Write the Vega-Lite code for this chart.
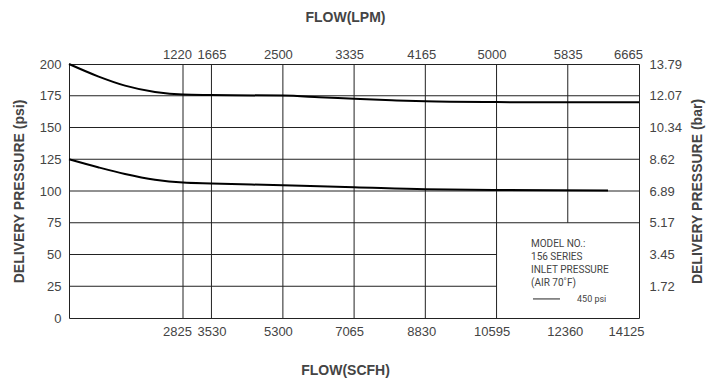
{
  "$schema": "https://vega.github.io/schema/vega-lite/v6.json",
  "width": 570,
  "height": 254,
  "autosize": {"type": "none"},
  "padding": {"left": 69, "top": 64, "right": 71, "bottom": 63},
  "background": "white",
  "config": {
    "view": {"stroke": "#222", "strokeWidth": 1},
    "axis": {
      "labelFont": "Liberation Sans",
      "labelFontSize": 13,
      "labelColor": "#444",
      "titleFont": "Liberation Sans",
      "titleFontSize": 14,
      "titleFontWeight": "bold",
      "titleColor": "#444",
      "ticks": false,
      "tickSize": 0,
      "domain": false,
      "grid": false
    }
  },
  "layer": [
    {
      "data": {"values": [
        {"x": 2825, "y1": 0, "y2": 200},
        {"x": 3530, "y1": 0, "y2": 200},
        {"x": 5300, "y1": 0, "y2": 200},
        {"x": 7065, "y1": 0, "y2": 200},
        {"x": 8830, "y1": 0, "y2": 200},
        {"x": 10595, "y1": 0, "y2": 200},
        {"x": 12360, "y1": 75, "y2": 200}
      ]},
      "mark": {"type": "rule", "color": "#222", "strokeWidth": 1},
      "encoding": {
        "x": {"field": "x", "type": "quantitative", "scale": {"domain": [0, 14125], "nice": false, "zero": false},
          "axis": {"orient": "top", "title": "FLOW(LPM)", "values": [2825, 3530, 5300, 7065, 8830, 10595, 12360, 14125],
            "labelExpr": "datum.value == 2825 ? '1220' : datum.value == 3530 ? '1665' : datum.value == 5300 ? '2500' : datum.value == 7065 ? '3335' : datum.value == 8830 ? '4165' : datum.value == 10595 ? '5000' : datum.value == 12360 ? '5835' : '6665'",
            "labelOffset": {"expr": "datum.value == 2825 ? -6 : datum.value == 3530 ? 0 : datum.value == 5300 ? -5 : datum.value == 7065 ? -5 : datum.value == 8830 ? -4 : datum.value == 10595 ? -5 : datum.value == 12360 ? 0 : -11"},
            "labelPadding": 3, "titlePadding": 24, "titleX": 276, "labelFlush": false, "labelOverlap": false}},
        "y": {"field": "y1", "type": "quantitative", "scale": {"domain": [0, 200], "nice": false},
          "axis": {"orient": "right", "title": "DELIVERY PRESSURE (bar)", "values": [25, 50, 75, 100, 125, 150, 175, 200],
            "labelExpr": "datum.value == 25 ? '1.72' : datum.value == 50 ? '3.45' : datum.value == 75 ? '5.17' : datum.value == 100 ? '6.89' : datum.value == 125 ? '8.62' : datum.value == 150 ? '10.34' : datum.value == 175 ? '12.07' : '13.79'",
            "labelPadding": 10, "titlePadding": 9, "titleAngle": 270, "titleBaseline": "top", "labelFlush": false, "labelOverlap": false}},
        "y2": {"field": "y2"}
      }
    },
    {
      "data": {"values": [
        {"y": 25, "x1": 0, "x2": 10595},
        {"y": 50, "x1": 0, "x2": 10595},
        {"y": 75, "x1": 0, "x2": 14125},
        {"y": 100, "x1": 0, "x2": 14125},
        {"y": 125, "x1": 0, "x2": 14125},
        {"y": 150, "x1": 0, "x2": 14125},
        {"y": 175, "x1": 0, "x2": 14125}
      ]},
      "mark": {"type": "rule", "color": "#222", "strokeWidth": 1},
      "encoding": {
        "y": {"field": "y", "type": "quantitative", "axis": null},
        "x": {"field": "x1", "type": "quantitative", "axis": null},
        "x2": {"field": "x2"}
      }
    },
    {
      "data": {"values": [
        {"series": "upper", "flow": 0, "psi": 200},
        {"series": "upper", "flow": 719, "psi": 190.3},
        {"series": "upper", "flow": 1388, "psi": 183.0},
        {"series": "upper", "flow": 2131, "psi": 178.0},
        {"series": "upper", "flow": 2825, "psi": 175.9},
        {"series": "upper", "flow": 3530, "psi": 175.6},
        {"series": "upper", "flow": 5300, "psi": 175.1},
        {"series": "upper", "flow": 6200, "psi": 173.9},
        {"series": "upper", "flow": 7065, "psi": 172.6},
        {"series": "upper", "flow": 8000, "psi": 171.4},
        {"series": "upper", "flow": 8830, "psi": 170.6},
        {"series": "upper", "flow": 10595, "psi": 170.0},
        {"series": "upper", "flow": 12360, "psi": 169.8},
        {"series": "upper", "flow": 14125, "psi": 169.8},
        {"series": "lower", "flow": 0, "psi": 125},
        {"series": "lower", "flow": 719, "psi": 118.7},
        {"series": "lower", "flow": 1388, "psi": 113.4},
        {"series": "lower", "flow": 2131, "psi": 108.9},
        {"series": "lower", "flow": 2825, "psi": 106.6},
        {"series": "lower", "flow": 3530, "psi": 105.9},
        {"series": "lower", "flow": 5300, "psi": 104.5},
        {"series": "lower", "flow": 7065, "psi": 103.0},
        {"series": "lower", "flow": 8830, "psi": 101.3},
        {"series": "lower", "flow": 10595, "psi": 100.8},
        {"series": "lower", "flow": 13357, "psi": 100.3}
      ]},
      "mark": {"type": "line", "color": "#000", "strokeWidth": 2, "interpolate": "monotone"},
      "encoding": {
        "x": {"field": "flow", "type": "quantitative",
          "axis": {"orient": "bottom", "title": "FLOW(SCFH)", "values": [2825, 3530, 5300, 7065, 8830, 10595, 12360, 14125],
            "format": "d",
            "labelOffset": {"expr": "datum.value == 2825 ? -6 : datum.value == 3530 ? 0 : datum.value == 5300 ? -5 : datum.value == 7065 ? -5 : datum.value == 8830 ? -4 : datum.value == 10595 ? -5 : datum.value == 12360 ? -3 : -13"},
            "labelPadding": 7, "titlePadding": 25, "titleX": 276, "labelFlush": false, "labelOverlap": false}},
        "y": {"field": "psi", "type": "quantitative",
          "axis": {"orient": "left", "title": "DELIVERY PRESSURE (psi)", "values": [0, 25, 50, 75, 100, 125, 150, 175, 200],
            "labelPadding": 8, "titlePadding": 13, "labelFlush": false, "labelOverlap": false}},
        "detail": {"field": "series"}
      }
    },
    {
      "data": {"values": [
        {"label": "MODEL NO.:", "flow": 11449, "psi": 58.3},
        {"label": "156 SERIES", "flow": 11449, "psi": 48.0},
        {"label": "INLET PRESSURE", "flow": 11449, "psi": 37.8},
        {"label": "(AIR 70˚F)", "flow": 11449, "psi": 27.6}
      ]},
      "mark": {"type": "text", "align": "left", "baseline": "middle", "font": "Roboto", "fontSize": 10, "color": "#444"},
      "encoding": {
        "x": {"field": "flow", "type": "quantitative", "axis": null},
        "y": {"field": "psi", "type": "quantitative", "axis": null},
        "text": {"field": "label"}
      }
    },
    {
      "data": {"values": [{"label": "450 psi", "flow": 12589, "psi": 15}]},
      "mark": {"type": "text", "align": "left", "baseline": "middle", "font": "Roboto", "fontSize": 9, "color": "#444"},
      "encoding": {
        "x": {"field": "flow", "type": "quantitative", "axis": null},
        "y": {"field": "psi", "type": "quantitative", "axis": null},
        "text": {"field": "label"}
      }
    },
    {
      "data": {"values": [{"flow": 11498, "flow2": 12167, "psi": 15}]},
      "mark": {"type": "rule", "color": "#222", "strokeWidth": 1},
      "encoding": {
        "x": {"field": "flow", "type": "quantitative", "axis": null},
        "x2": {"field": "flow2"},
        "y": {"field": "psi", "type": "quantitative", "axis": null}
      }
    }
  ],
  "resolve": {"axis": {"x": "independent", "y": "independent"}}
}
